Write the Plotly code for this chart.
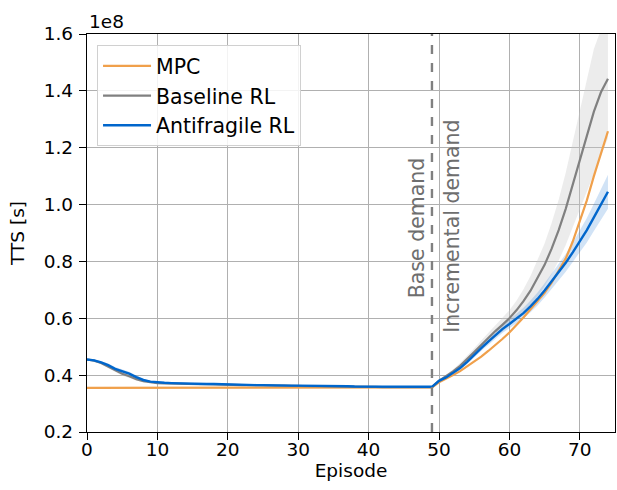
import plotly.graph_objects as go

# Values in units of 1e8 s
episodes = list(range(75))

mpc = [0.355] * 49 + [
    0.357, 0.375, 0.387, 0.400, 0.414, 0.430, 0.447, 0.465, 0.485, 0.505,
    0.527, 0.550, 0.575, 0.603, 0.632, 0.660, 0.690, 0.725, 0.765, 0.810,
    0.870, 0.940, 1.015, 1.100, 1.180, 1.258]

baseline = [
    0.455, 0.451, 0.443, 0.431, 0.417, 0.405, 0.396, 0.386, 0.379, 0.375,
    0.372, 0.371, 0.370, 0.370, 0.369, 0.369, 0.368, 0.368, 0.367, 0.367,
    0.366, 0.366, 0.365, 0.365, 0.364, 0.364, 0.363, 0.363, 0.363, 0.362,
    0.362, 0.362, 0.361, 0.361, 0.361, 0.360, 0.360, 0.360, 0.359, 0.359,
    0.359, 0.359, 0.358, 0.358, 0.358, 0.358, 0.358, 0.358, 0.358, 0.358,
    0.380, 0.395, 0.413, 0.433, 0.456, 0.481, 0.506, 0.531, 0.555, 0.577,
    0.600, 0.628, 0.660, 0.697, 0.740, 0.788, 0.845, 0.910, 0.985, 1.070,
    1.157, 1.245, 1.327, 1.395, 1.443]
baseline_std = [
    0.002, 0.003, 0.004, 0.006, 0.007, 0.007, 0.006, 0.005, 0.004, 0.003,
    0.002, 0.002, 0.002, 0.002, 0.002, 0.002, 0.002, 0.002, 0.002, 0.002,
    0.002, 0.002, 0.002, 0.002, 0.002, 0.002, 0.002, 0.002, 0.002, 0.002,
    0.002, 0.002, 0.002, 0.002, 0.002, 0.002, 0.002, 0.002, 0.002, 0.002,
    0.002, 0.002, 0.002, 0.002, 0.002, 0.002, 0.002, 0.002, 0.002, 0.002,
    0.004, 0.006, 0.008, 0.010, 0.012, 0.014, 0.016, 0.018, 0.021, 0.024,
    0.028, 0.034, 0.042, 0.052, 0.063, 0.075, 0.090, 0.107, 0.127, 0.150,
    0.175, 0.200, 0.220, 0.220, 0.210]

antifragile = [
    0.455, 0.452, 0.445, 0.435, 0.422, 0.413, 0.405, 0.393, 0.383, 0.377,
    0.374, 0.373, 0.372, 0.371, 0.371, 0.370, 0.370, 0.369, 0.369, 0.368,
    0.367, 0.367, 0.366, 0.366, 0.365, 0.365, 0.364, 0.364, 0.364, 0.363,
    0.363, 0.363, 0.362, 0.362, 0.362, 0.361, 0.361, 0.361, 0.360, 0.360,
    0.360, 0.360, 0.359, 0.359, 0.359, 0.359, 0.359, 0.359, 0.359, 0.359,
    0.380, 0.392, 0.408, 0.425, 0.447, 0.472, 0.495, 0.518, 0.540, 0.562,
    0.580, 0.598, 0.618, 0.642, 0.668, 0.698, 0.730, 0.762, 0.795, 0.832,
    0.870, 0.910, 0.955, 1.000, 1.045]
antifragile_std = [
    0.003, 0.004, 0.005, 0.006, 0.007, 0.008, 0.007, 0.006, 0.004, 0.003,
    0.002, 0.002, 0.002, 0.002, 0.002, 0.002, 0.002, 0.002, 0.002, 0.002,
    0.002, 0.002, 0.002, 0.002, 0.002, 0.002, 0.002, 0.002, 0.002, 0.002,
    0.002, 0.002, 0.002, 0.002, 0.002, 0.002, 0.002, 0.002, 0.002, 0.002,
    0.002, 0.002, 0.002, 0.002, 0.002, 0.002, 0.002, 0.002, 0.002, 0.002,
    0.004, 0.005, 0.006, 0.007, 0.008, 0.009, 0.010, 0.012, 0.013, 0.014,
    0.015, 0.017, 0.019, 0.021, 0.023, 0.025, 0.027, 0.029, 0.031, 0.034,
    0.038, 0.043, 0.048, 0.054, 0.060]

switch_episode = 49
x_ticks = [0, 10, 20, 30, 40, 50, 60, 70]
y_ticks = [0.2, 0.4, 0.6, 0.8, 1.0, 1.2, 1.4, 1.6]

C_MPC = "#F0A04B"
C_BASE = "#808080"
C_ANTI = "#0066CC"

FONT = "DejaVu Sans"
TICK_SIZE = 18.5

fig = go.Figure()


def band(y, s, fill):
    up = [a + b for a, b in zip(y, s)]
    lo = [a - b for a, b in zip(y, s)]
    fig.add_trace(go.Scatter(x=episodes, y=up, mode="lines", line=dict(width=0),
                             showlegend=False, hoverinfo="skip"))
    fig.add_trace(go.Scatter(x=episodes, y=lo, mode="lines", line=dict(width=0),
                             fill="tonexty", fillcolor=fill, showlegend=False,
                             hoverinfo="skip"))


band(baseline, baseline_std, "rgba(200,200,200,0.35)")
band(antifragile, antifragile_std, "rgba(0,102,204,0.18)")

fig.add_trace(go.Scatter(x=episodes, y=mpc, mode="lines", name="MPC",
                         line=dict(color=C_MPC, width=2.2)))
fig.add_trace(go.Scatter(x=episodes, y=baseline, mode="lines", name="Baseline RL",
                         line=dict(color=C_BASE, width=2.2)))
fig.add_trace(go.Scatter(x=episodes, y=antifragile, mode="lines", name="Antifragile RL",
                         line=dict(color=C_ANTI, width=2.4)))

fig.add_shape(type="line", x0=switch_episode, x1=switch_episode, y0=0, y1=1,
              xref="x", yref="paper", line=dict(color="#808080", width=2.4, dash="dash"))

fig.add_annotation(x=switch_episode, y=0.92, xref="x", yref="y", text="Base demand",
                   textangle=-90, showarrow=False, xanchor="right", xshift=-1,
                   font=dict(family=FONT, size=20.5, color="#6e6e6e"))
fig.add_annotation(x=switch_episode, y=0.925, xref="x", yref="y", text="Incremental demand",
                   textangle=-90, showarrow=False, xanchor="left", xshift=6,
                   font=dict(family=FONT, size=20.5, color="#6e6e6e"))
fig.add_annotation(x=0, y=1.0, xref="paper", yref="paper", text="1e8",
                   showarrow=False, xanchor="left", yanchor="bottom", yshift=0,
                   font=dict(family=FONT, size=TICK_SIZE, color="black"))

fig.update_layout(
    width=617, height=490,
    margin=dict(l=87, r=2, t=34, b=58),
    paper_bgcolor="white", plot_bgcolor="white",
    font=dict(family=FONT, size=TICK_SIZE, color="black"),
    showlegend=True,
    legend=dict(x=0.019, y=0.972, xanchor="left", yanchor="top", traceorder="normal",
                bgcolor="rgba(255,255,255,0.85)", bordercolor="#d0d0d0", borderwidth=1,
                itemwidth=48, font=dict(family=FONT, size=20.5)),
    xaxis=dict(range=[0, 75], tickvals=x_ticks, ticks="outside", ticklen=7, tickwidth=1.3,
               tickcolor="black", showline=True, linecolor="black", linewidth=1.3,
               mirror=True, showgrid=True, gridcolor="#b0b0b0", gridwidth=1,
               zeroline=False, ticklabelstandoff=-6,
               title=dict(text="Episode", font=dict(size=TICK_SIZE), standoff=2)),
    yaxis=dict(range=[0.2, 1.6], tickvals=y_ticks, tickformat=".1f", ticks="outside",
               ticklen=7, tickwidth=1.3, tickcolor="black", showline=True, linecolor="black",
               linewidth=1.3, mirror=True, showgrid=True, gridcolor="#b0b0b0",
               gridwidth=1, zeroline=False, ticklabelstandoff=2,
               title=dict(text="TTS [s]", font=dict(size=TICK_SIZE), standoff=14)),
)

fig.write_html("out.html")
